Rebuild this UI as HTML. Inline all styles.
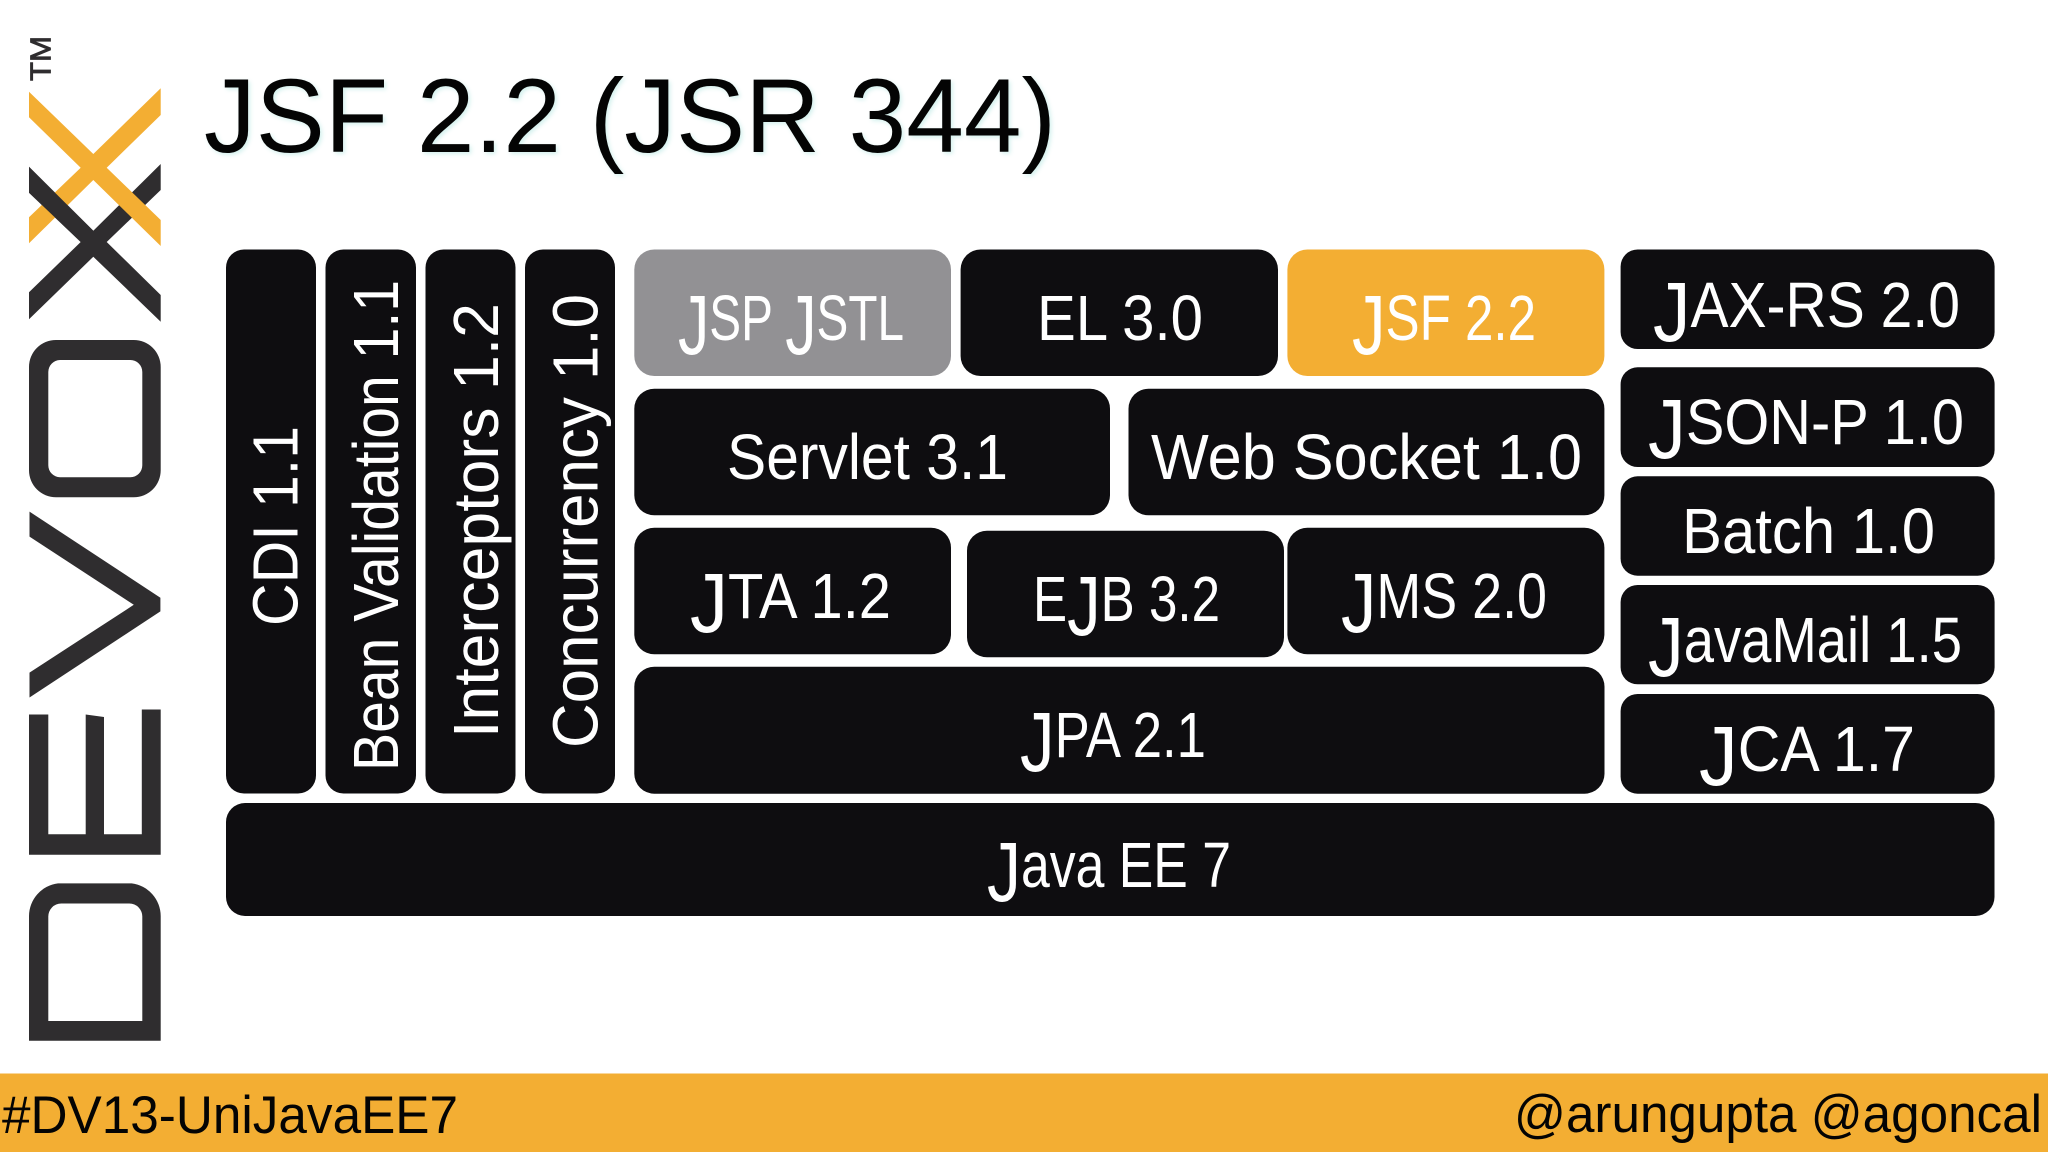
<!DOCTYPE html>
<html><head><meta charset="utf-8"><style>
html,body{margin:0;padding:0;background:#fff;width:2048px;height:1152px;overflow:hidden}
svg{display:block}
text{font-family:"Liberation Sans",Arial,sans-serif}
tspan.j{font-size:84px}
</style></head><body>
<svg width="2048" height="1152" viewBox="0 0 2048 1152" xmlns="http://www.w3.org/2000/svg">
<rect width="2048" height="1152" fill="#fff"/>
<!-- logo -->
<g fill="#2f2d2f">
<text transform="translate(50.5,81) rotate(-90)" font-size="29" textLength="45" lengthAdjust="spacingAndGlyphs" stroke="#2f2d2f" stroke-width="0.8">TM</text>
<polygon points="29,166.7 93.3,230.7 160.7,164 160.7,190 106.7,242 160.7,295 160.7,321.7 93.3,256.7 29,319.3 29,292.3 80.7,242 29,192.7"/>
</g>
<polygon fill="#f3ae33" points="29,91.7 93.3,154 160.7,88.3 160.7,115 106.7,167.7 160.7,220 160.7,246 93.3,180 29,243.3 29,217.3 80.7,167.7 29,117.3"/>
<g fill="#2f2d2f">
<polygon points="29,166.7 93.3,230.7 80.7,242 29,192.7"/>
<path fill-rule="evenodd" d="M56,340H133.7A27,27 0 0 1 160.7,367V470.3A27,27 0 0 1 133.7,497.3H56A27,27 0 0 1 29,470.3V367A27,27 0 0 1 56,340ZM60,360A12,12 0 0 0 48.3,372V465.3A12,12 0 0 0 60,477.3H130.3A12,12 0 0 0 142.3,465.3V372A12,12 0 0 0 130.3,360Z"/>
<polygon points="29.5,511.6 160.4,597.7 160.4,611.4 29.5,697.5 29.5,672.6 133.8,604.8 29.5,536.6"/>
<polygon points="29,854.7 160.7,854.7 160.7,709.5 141.8,709.5 141.8,834.3 104,834.3 104,717 85.7,714.5 85.7,834.3 48.3,834.3 48.3,714.5 29,714.5"/>
<path fill-rule="evenodd" d="M29,1040.7H160.7V916A33,33 0 0 0 131.7,883.4H58A33,33 0 0 0 29,916ZM48.3,1021V917A13,13 0 0 1 61.3,903.5H129.3A13,13 0 0 1 142.3,917V1021Z"/>
</g>
<!-- title -->
<text x="204" y="152" font-size="105" fill="#040404" textLength="852" lengthAdjust="spacingAndGlyphs" style="filter:drop-shadow(2px 2px 2px #d4f1ee)">JSF 2.2 (JSR 344)</text>
<!-- boxes -->
<g fill="#0e0d10">
<rect x="226" y="249.5" width="90" height="544" rx="18"/>
<rect x="325.5" y="249.5" width="90.5" height="544" rx="18"/>
<rect x="425.5" y="249.5" width="90" height="544" rx="18"/>
<rect x="525" y="249.5" width="90" height="544" rx="18"/>
<rect x="226" y="803" width="1768.5" height="113" rx="19"/>
<rect x="960.6" y="249.5" width="317.4" height="126.5" rx="20"/>
<rect x="634.3" y="388.7" width="475.7" height="126.6" rx="20"/>
<rect x="1128.5" y="388.7" width="475.9" height="126.6" rx="20"/>
<rect x="634.3" y="527.7" width="316.7" height="126.6" rx="20"/>
<rect x="967" y="530.7" width="317" height="126.6" rx="20"/>
<rect x="1287.4" y="527.7" width="317" height="126.6" rx="20"/>
<rect x="634.3" y="666.7" width="970.2" height="127" rx="20"/>
<rect x="1620.6" y="249.5" width="374" height="99.5" rx="17"/>
<rect x="1620.6" y="367.3" width="374" height="99.7" rx="17"/>
<rect x="1620.6" y="476.3" width="374" height="99.4" rx="17"/>
<rect x="1620.6" y="585" width="374" height="99.3" rx="17"/>
<rect x="1620.6" y="694" width="374" height="99.7" rx="17"/>
</g>
<rect x="634.3" y="249.5" width="316.7" height="126.5" rx="20" fill="#929194"/>
<rect x="1287.4" y="249.5" width="317" height="126.5" rx="20" fill="#f3ae33"/>
<!-- labels -->
<g fill="#fff" font-size="64">
<text transform="translate(297.7,626) rotate(-90)" textLength="200" lengthAdjust="spacingAndGlyphs">CDI 1.1</text>
<text transform="translate(398,771) rotate(-90)" textLength="491" lengthAdjust="spacingAndGlyphs">Bean Validation 1.1</text>
<text transform="translate(498,738) rotate(-90)" textLength="435" lengthAdjust="spacingAndGlyphs">Interceptors 1.2</text>
<text transform="translate(597.6,748) rotate(-90)" textLength="454" lengthAdjust="spacingAndGlyphs">Concurrency 1.0</text>
<text x="678" y="340" textLength="226" lengthAdjust="spacingAndGlyphs"><tspan class="j" dy="14">J</tspan><tspan dy="-14">SP </tspan><tspan class="j" dy="14">J</tspan><tspan dy="-14">STL</tspan></text>
<text x="1037" y="340" textLength="166" lengthAdjust="spacingAndGlyphs">EL 3.0</text>
<text x="1352" y="340" textLength="184" lengthAdjust="spacingAndGlyphs"><tspan class="j" dy="14">J</tspan><tspan dy="-14">SF 2.2</tspan></text>
<text x="727" y="479" textLength="281" lengthAdjust="spacingAndGlyphs">Servlet 3.1</text>
<text x="1151" y="479" textLength="431" lengthAdjust="spacingAndGlyphs">Web Socket 1.0</text>
<text x="690" y="618" textLength="201" lengthAdjust="spacingAndGlyphs"><tspan class="j" dy="14">J</tspan><tspan dy="-14">TA 1.2</tspan></text>
<text x="1033" y="621" textLength="187" lengthAdjust="spacingAndGlyphs">E<tspan class="j" dy="14">J</tspan><tspan dy="-14">B 3.2</tspan></text>
<text x="1341" y="618" textLength="206" lengthAdjust="spacingAndGlyphs"><tspan class="j" dy="14">J</tspan><tspan dy="-14">MS 2.0</tspan></text>
<text x="1020" y="757" textLength="186" lengthAdjust="spacingAndGlyphs"><tspan class="j" dy="14">J</tspan><tspan dy="-14">PA 2.1</tspan></text>
<text x="1699" y="771" textLength="216" lengthAdjust="spacingAndGlyphs"><tspan class="j" dy="14">J</tspan><tspan dy="-14">CA 1.7</tspan></text>
<text x="987" y="887" textLength="244" lengthAdjust="spacingAndGlyphs"><tspan class="j" dy="14">J</tspan><tspan dy="-14">ava EE 7</tspan></text>
<text x="1653" y="327" textLength="307" lengthAdjust="spacingAndGlyphs"><tspan class="j" dy="14">J</tspan><tspan dy="-14">AX-RS 2.0</tspan></text>
<text x="1648" y="444" textLength="316" lengthAdjust="spacingAndGlyphs"><tspan class="j" dy="14">J</tspan><tspan dy="-14">SON-P 1.0</tspan></text>
<text x="1682" y="553" textLength="253" lengthAdjust="spacingAndGlyphs">Batch 1.0</text>
<text x="1648" y="662" textLength="314" lengthAdjust="spacingAndGlyphs"><tspan class="j" dy="14">J</tspan><tspan dy="-14">avaMail 1.5</tspan></text>
</g>
<!-- footer -->
<rect x="0" y="1073.5" width="2048" height="78.5" fill="#f3ae33"/>
<text x="2" y="1133" font-size="53" fill="#040404" textLength="456" lengthAdjust="spacingAndGlyphs">#DV13-UniJavaEE7</text>
<text x="1514" y="1132" font-size="53" fill="#040404" textLength="528" lengthAdjust="spacingAndGlyphs">@arungupta @agoncal</text>
</svg>
</body></html>
